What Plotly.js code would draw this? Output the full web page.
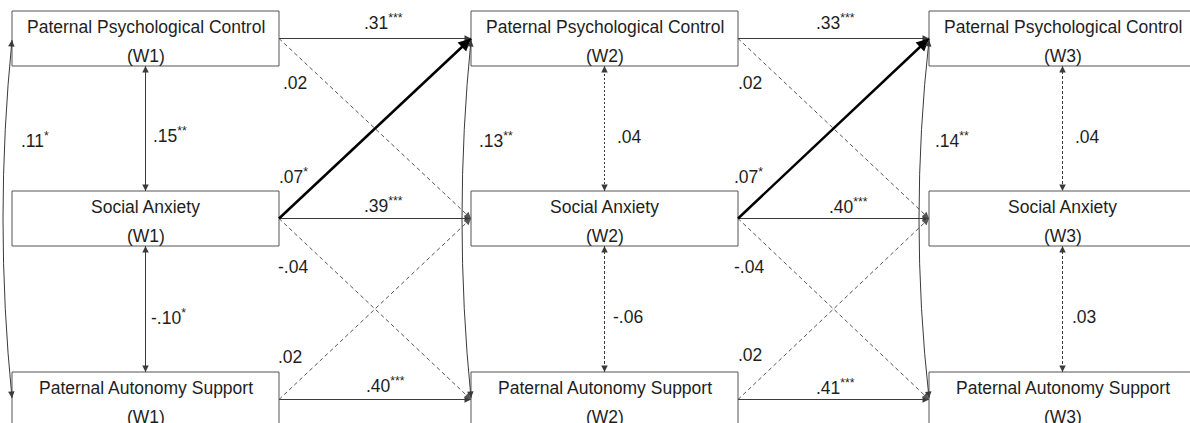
<!DOCTYPE html>
<html><head><meta charset="utf-8">
<script src="https://cdn.plot.ly/plotly-3.0.1.min.js"></script>
<style>html,body{margin:0;padding:0;background:#fff;} #chart{width:1190px;height:423px;}</style>
</head><body><div id="chart"></div>
<script>
// ---- data ----
const constructs = ['Paternal Psychological Control', 'Social Anxiety', 'Paternal Autonomy Support'];
const waves = ['W1', 'W2', 'W3'];
// autoregressive (stability) paths, rows: PPC, SA, PAS
const stabilityW1W2 = ['.31***', '.39***', '.40***'];
const stabilityW2W3 = ['.33***', '.40***', '.41***'];
// cross-lagged paths: PPC→SA, SA→PPC, SA→PAS, PAS→SA
const crossW1W2 = ['.02', '.07*', '-.04', '.02'];
const crossW2W3 = ['.02', '.07*', '-.04', '.02'];
// within-wave correlations: PPC↔SA, SA↔PAS, PPC↔PAS
const corrW1 = ['.15**', '-.10*', '.11*'];
const corrW2 = ['.04', '-.06', '.13**'];
const corrW3 = ['.04', '.03', '.14**'];

// ---- layout geometry & styles ----
const W = 1190, H = 423;
const colLeft = [12, 471, 929], boxW = 267, rowTop = [11, 191, 372], boxH = 55;
const FONT = 'Arial, "Liberation Sans", sans-serif';
const FS = 17.5;
const LINE = '#3a3a3a', BOX = '#555555', TXT = '#1e1e1e';
const stabLabelPos = [[[362, 22], [362, 205], [364, 385]], [[814, 22], [827, 206], [814, 387]]];
const crossLabelPos = [[[281, 83], [277, 176], [276, 267], [276, 357]], [[736, 83], [732, 176], [732, 267], [736, 355]]];
const corrLabelPos = [[[151, 135], [149, 317], [19, 140]], [[615, 137], [611, 317], [477, 140]], [[1073, 137], [1070, 317], [933, 140]]];
const vertDash = [['3px,2px', '3px,2px'], ['2px,2px', '3px,2px'], ['3px,2px', '3px,2px']];
const curveBulge = [18, 18, 20];

const shapes = [], annotations = [];
const rowMid = rowTop.map(t => t + boxH / 2);
const colMid = colLeft.map(l => l + boxW / 2);

function fmt(s) { const m = s.match(/^([^*]*)(\**)$/); return m[2] ? m[1] + '<sup>' + m[2] + '</sup>' : m[1]; }
function sig(s) { return s.indexOf('*') >= 0; }
function label(text, p) {
  annotations.push({ text: fmt(text), x: p[0], y: p[1], xref: 'x', yref: 'y', xanchor: 'left', yanchor: 'middle',
    showarrow: false, font: { family: FONT, size: FS, color: TXT } });
}
function line(x0, y0, x1, y1, o) {
  shapes.push({ type: 'line', xref: 'x', yref: 'y', x0, y0, x1, y1, layer: 'above',
    line: { color: o.color || LINE, width: o.width || 1, dash: o.dash || 'solid' } });
}
function head(x, y, fx, fy, o) {
  const dx = x - fx, dy = y - fy, L = Math.hypot(dx, dy);
  const len = Math.max(6, (o.width || 1) * 4);
  annotations.push({ x, y, ax: x - dx / L * len, ay: y - dy / L * len, xref: 'x', yref: 'y', axref: 'x', ayref: 'y',
    text: '', showarrow: true, arrowhead: 2, arrowsize: o.size || 1.3, arrowwidth: o.width || 1,
    arrowcolor: o.color || LINE, standoff: 0 });
}
function arrow(x0, y0, x1, y1, o, both) {
  line(x0, y0, x1, y1, o);
  head(x1, y1, x0, y0, o);
  if (both) head(x0, y0, x1, y1, o);
}

// boxes and names
for (let c = 0; c < 3; c++) {
  for (let r = 0; r < 3; r++) {
    shapes.push({ type: 'rect', xref: 'x', yref: 'y', x0: colLeft[c], x1: colLeft[c] + boxW,
      y0: rowTop[r], y1: rowTop[r] + boxH, line: { color: BOX, width: 1 }, fillcolor: 'rgba(0,0,0,0)', layer: 'above' });
    annotations.push({ text: constructs[r], x: colMid[c], y: rowTop[r] + 15.5, xref: 'x', yref: 'y',
      xanchor: 'center', yanchor: 'middle', showarrow: false, font: { family: FONT, size: FS, color: TXT } });
    annotations.push({ text: '(' + waves[c] + ')', x: colMid[c], y: rowTop[r] + 45, xref: 'x', yref: 'y',
      xanchor: 'center', yanchor: 'middle', showarrow: false, font: { family: FONT, size: FS, color: TXT } });
  }
}

// paths between waves
const stability = [stabilityW1W2, stabilityW2W3];
const cross = [crossW1W2, crossW2W3];
for (let g = 0; g < 2; g++) {
  const xa = colLeft[g] + boxW, xb = colLeft[g + 1];
  for (let r = 0; r < 3; r++) {
    arrow(xa, rowMid[r], xb, rowMid[r], { dash: sig(stability[g][r]) ? 'solid' : '4px,3px' });
    label(stability[g][r], stabLabelPos[g][r]);
  }
  const ends = [[0, 1], [1, 0], [1, 2], [2, 1]];
  const order = [0, 2, 3, 1]; // draw bold last
  order.forEach(k => {
    const [from, to] = ends[k];
    const v = cross[g][k];
    const o = sig(v) ? { width: 2.5, color: '#000', size: 1 } : { dash: '4px,3px', color: '#555' };
    arrow(xa, rowMid[from], xb, rowMid[to], o);
  });
  for (let k = 0; k < 4; k++) label(cross[g][k], crossLabelPos[g][k]);
}

// within-wave correlations
const corr = [corrW1, corrW2, corrW3];
for (let c = 0; c < 3; c++) {
  const x = colMid[c];
  arrow(x, rowTop[0] + boxH, x, rowTop[1], { dash: sig(corr[c][0]) ? 'solid' : vertDash[c][0] }, true);
  arrow(x, rowTop[1] + boxH, x, rowTop[2], { dash: sig(corr[c][1]) ? 'solid' : vertDash[c][1] }, true);
  label(corr[c][0], corrLabelPos[c][0]);
  label(corr[c][1], corrLabelPos[c][1]);
  // curved PPC↔PAS correlation on the left of the column
  const xl = colLeft[c], y0 = 40, y1 = 398, cx = xl - curveBulge[c], cy = (y0 + y1) / 2;
  shapes.push({ type: 'path', xref: 'x', yref: 'y', path: `M ${xl},${y0} Q ${cx},${cy} ${xl},${y1}`,
    line: { color: LINE, width: 1 }, layer: 'above' });
  head(xl, y0, xl + (cx - xl) * 0.05, y0 + (cy - y0) * 0.05, {});
  head(xl, y1, xl + (cx - xl) * 0.05, y1 + (cy - y1) * 0.05, {});
  label(corr[c][2], corrLabelPos[c][2]);
}

const layout = {
  width: W, height: H, margin: { l: 0, r: 0, t: 0, b: 0 },
  paper_bgcolor: '#fff', plot_bgcolor: '#fff', showlegend: false,
  xaxis: { range: [0, W], visible: false, fixedrange: true },
  yaxis: { range: [H, 0], visible: false, fixedrange: true },
  shapes, annotations
};
Plotly.newPlot('chart', [{ x: [], y: [], type: 'scatter', mode: 'markers', hoverinfo: 'skip' }], layout, { staticPlot: true, displayModeBar: false });
</script>
</body></html>
